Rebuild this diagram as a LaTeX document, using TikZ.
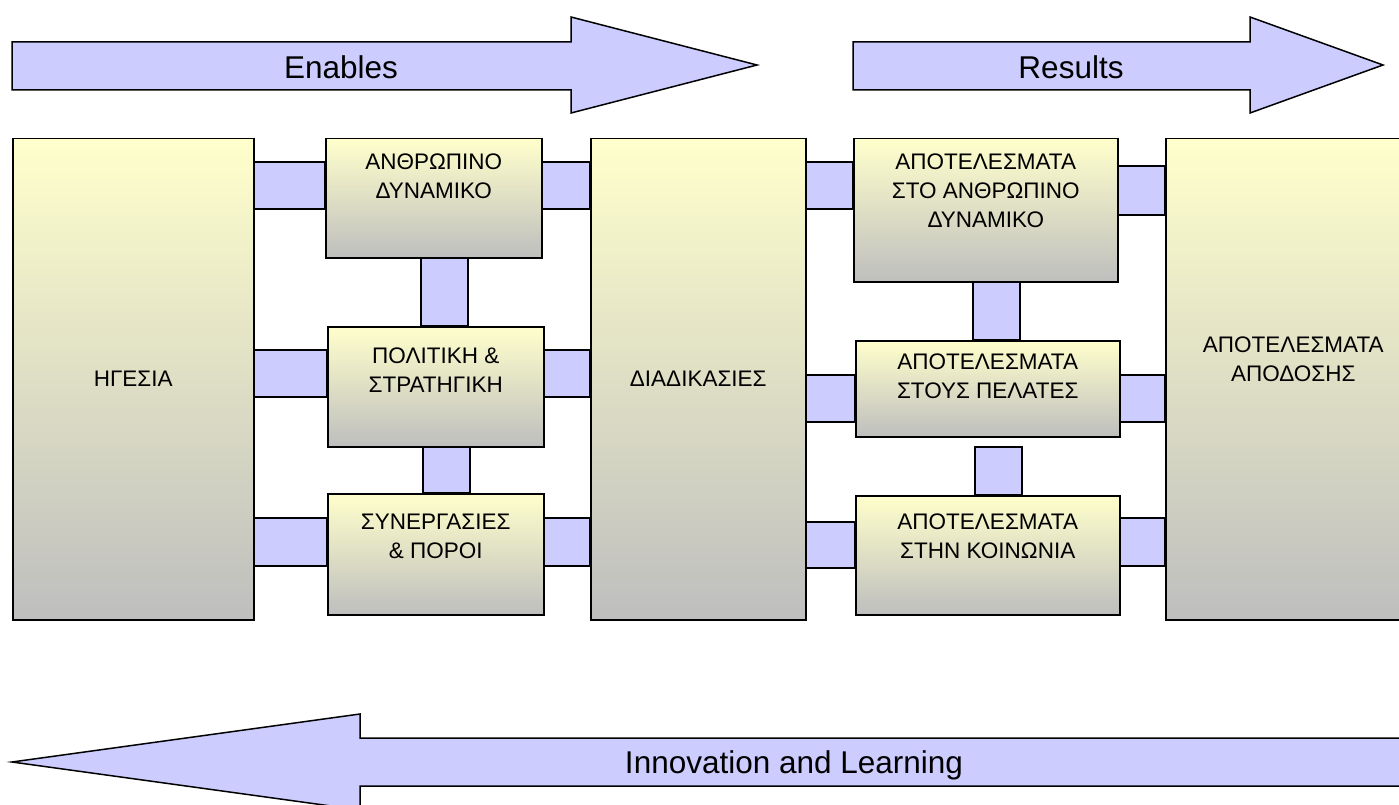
\documentclass[tikz,border=0pt]{standalone}
\usepackage{fontspec}
\setmainfont{Liberation Sans}
\usetikzlibrary{calc}
\definecolor{barblue}{RGB}{204,204,255}
\definecolor{boxtop}{RGB}{255,255,204}
\definecolor{boxbot}{RGB}{190,190,190}
\tikzset{
  box/.style={draw=black, line width=1.5pt, top color=boxtop, bottom color=boxbot,
              anchor=north west, inner sep=0pt},
  bar/.style={draw=black, line width=1.5pt, fill=barblue},
  bigarrow/.style={draw=black, line width=1.5pt, fill=barblue, line join=miter},
  lbl/.style={font=\fontsize{22.5}{29}\selectfont, align=center, inner sep=0pt},
  toplbl/.style={lbl, anchor=north},
  arrowtxt/.style={font=\fontsize{31.5}{36}\selectfont, inner sep=0pt}
}
\begin{document}
\begin{tikzpicture}[x=1pt, y=-1pt]
\useasboundingbox (0,0) rectangle (1399,805);
\clip (0,0) rectangle (1399,805);
% big arrows
\draw[bigarrow] (12,42) -- (571,42) -- (571,17) -- (757,65) -- (571,113) -- (571,90) -- (12,90) -- cycle;
\node[arrowtxt] (enables) at (341,67) {Enables};
\draw[bigarrow] (853,42) -- (1250,42) -- (1250,17) -- (1383,65) -- (1250,113) -- (1250,90) -- (853,90) -- cycle;
\node[arrowtxt] (results) at (1071,67) {Results};
\draw[bigarrow] (1410,738) -- (360,738) -- (360,714) -- (12,762) -- (360,810) -- (360,786) -- (1410,786) -- cycle;
\node[arrowtxt] (innov) at (794,765) {Innovation and Learning};
% boxes
\node[box, minimum width=241pt, minimum height=481pt, label={[lbl]center:ΗΓΕΣΙΑ}] (lead) at (12,138) {};
\node[box, minimum width=216pt, minimum height=119pt,
      label={[toplbl,yshift=-15.5pt]90:ΑΝΘΡΩΠΙΝΟ\\ΔΥΝΑΜΙΚΟ}] (hr) at (325,138) {};
\node[box, minimum width=216pt, minimum height=120pt,
      label={[toplbl,yshift=-21.5pt]90:ΠΟΛΙΤΙΚΗ \&\\ΣΤΡΑΤΗΓΙΚΗ}] (pol) at (327,326) {};
\node[box, minimum width=216pt, minimum height=121pt,
      label={[toplbl,yshift=-20.5pt]90:ΣΥΝΕΡΓΑΣΙΕΣ\\\& ΠΟΡΟΙ}] (part) at (327,493) {};
\node[box, minimum width=215pt, minimum height=481pt, label={[lbl]center:ΔΙΑΔΙΚΑΣΙΕΣ}] (proc) at (590,138) {};
\node[box, minimum width=264pt, minimum height=143pt,
      label={[toplbl,yshift=-15.5pt]90:ΑΠΟΤΕΛΕΣΜΑΤΑ\\ΣΤΟ ΑΝΘΡΩΠΙΝΟ\\ΔΥΝΑΜΙΚΟ}] (peopres) at (853,138) {};
\node[box, minimum width=264pt, minimum height=96pt,
      label={[toplbl,yshift=-13.5pt]90:ΑΠΟΤΕΛΕΣΜΑΤΑ\\ΣΤΟΥΣ ΠΕΛΑΤΕΣ}] (custres) at (855,340) {};
\node[box, minimum width=264pt, minimum height=119pt,
      label={[toplbl,yshift=-18.5pt]90:ΑΠΟΤΕΛΕΣΜΑΤΑ\\ΣΤΗΝ ΚΟΙΝΩΝΙΑ}] (socres) at (855,495) {};
\node[box, minimum width=255pt, minimum height=481pt,
      label={[lbl,yshift=20pt]center:ΑΠΟΤΕΛΕΣΜΑΤΑ\\ΑΠΟΔΟΣΗΣ}] (keyres) at (1165,138) {};
% links
\draw[bar] (lead.east |- 0,162) rectangle (hr.west |- 0,209);
\draw[bar] (hr.east |- 0,162) rectangle (proc.west |- 0,209);
\draw[bar] (hr.south -| 421,0) rectangle (pol.north -| 468,0);
\draw[bar] (lead.east |- 0,350) rectangle (pol.west |- 0,397);
\draw[bar] (pol.east |- 0,350) rectangle (proc.west |- 0,397);
\draw[bar] (pol.south -| 423,0) rectangle (part.north -| 470,0);
\draw[bar] (lead.east |- 0,518) rectangle (part.west |- 0,566);
\draw[bar] (part.east |- 0,518) rectangle (proc.west |- 0,566);
\draw[bar] (proc.east |- 0,162) rectangle (peopres.west |- 0,209);
\draw[bar] (peopres.east |- 0,166) rectangle (keyres.west |- 0,215);
\draw[bar] (peopres.south -| 973,0) rectangle (custres.north -| 1020,0);
\draw[bar] (proc.east |- 0,375) rectangle (custres.west |- 0,422);
\draw[bar] (custres.east |- 0,375) rectangle (keyres.west |- 0,422);
\draw[bar] (975,447) rectangle (socres.north -| 1022,0);
\draw[bar] (proc.east |- 0,522) rectangle (socres.west |- 0,568);
\draw[bar] (socres.east |- 0,518) rectangle (keyres.west |- 0,566);
\end{tikzpicture}
\end{document}
